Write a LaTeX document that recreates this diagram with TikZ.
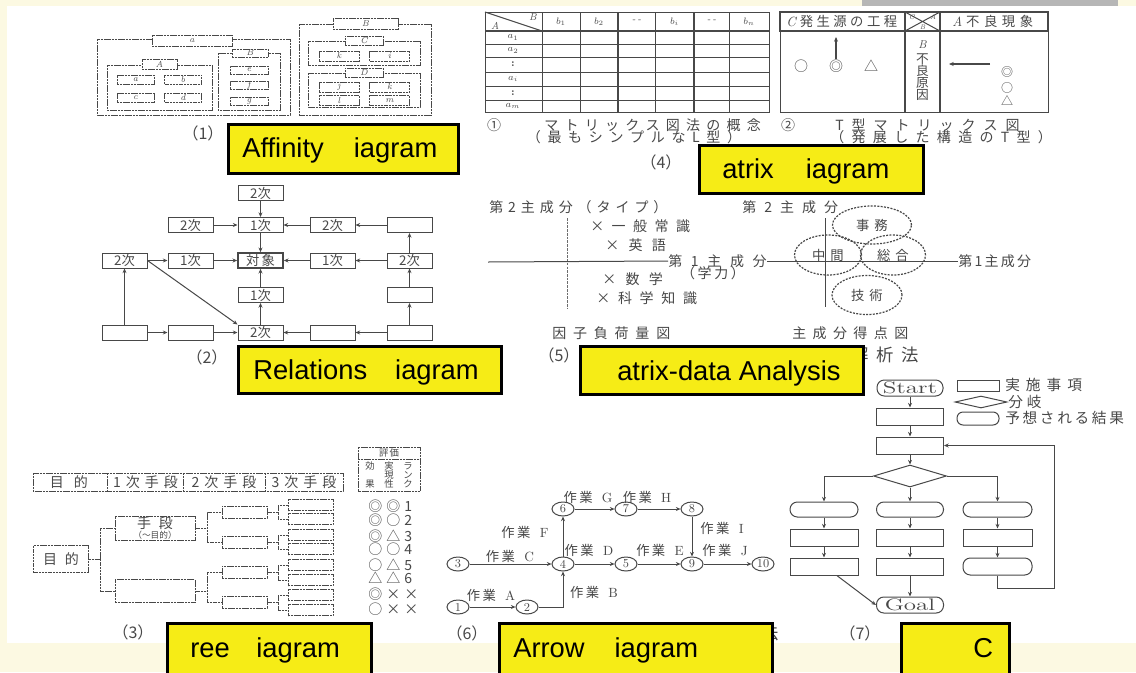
\documentclass[tikz,border=0pt]{standalone}
\usepackage{fontspec}
\usepackage{graphicx}
\usetikzlibrary{arrows.meta,shapes.geometric}
\newfontfamily\jp{Noto Sans CJK JP}
\newfontfamily\labfont{Liberation Sans}
% letter-spaced Japanese: \jsp{gap}{text}
\newlength\jgap
\def\jsploop#1#2{#1\ifx\relax#2\else\hskip\jgap\relax\expandafter\jsploop\expandafter#2\fi}
\newcommand\jsp[2]{\setlength\jgap{#1}\jsploop#2\relax}
\definecolor{cream}{RGB}{252,249,226}
\definecolor{barGrey}{RGB}{182,182,182}
\definecolor{labYellow}{RGB}{246,236,22}
\definecolor{ink}{RGB}{72,72,72}
\tikzset{
  wh/.style 2 args={minimum width=#1*0.75pt, minimum height=#2*0.75pt},
  scan/.style={draw=ink, line width=0.75pt},
  grp/.style={scan, dash pattern=on 1.6pt off 0.5pt},
  cell/.style={scan, fill=white, inner sep=0pt, text=ink, font=\fontsize{6.5}{7}\selectfont\itshape},
  afbox/.style={cell, dash pattern=on 1.6pt off 0.5pt},
  mt/.style={inner sep=0pt, text=ink, font=\fontsize{7.5}{8}\selectfont\itshape},
  jtxt/.style={inner sep=0pt, text=ink, font=\jp\fontsize{10.5}{11}\selectfont},
  pnum/.style={inner sep=0pt, text=ink, font=\jp\fontsize{12}{12}\selectfont},
  rbox/.style={scan, fill=white, inner sep=0pt, wh={45}{15}, text=ink, font=\jp\fontsize{10}{10}\selectfont},
  tbox/.style={scan, fill=white, inner sep=0pt, dash pattern=on 1.6pt off 0.5pt, text=ink, font=\jp\fontsize{10.5}{11}\selectfont},
  ev/.style={ellipse, scan, fill=white, inner sep=0pt, wh={22}{14}, text=ink, font=\fontsize{9}{9}\selectfont},
  pill/.style={scan, fill=white, rounded corners=5.5pt, inner sep=0pt, text=ink, font=\fontsize{12.5}{12.5}\selectfont},
  fbox/.style={scan, fill=white, inner sep=0pt},
  arr/.style={draw=ink, line width=0.75pt, -{Stealth[length=3.5pt,width=3pt]}},
  dell/.style={ellipse, draw=ink, line width=0.9pt, dash pattern=on 1.5pt off 1pt, inner sep=0pt, text=ink, font=\jp\fontsize{10}{10}\selectfont},
  wk/.style={inner sep=0pt, text=ink, font=\fontsize{10}{10}\selectfont},
  lgt/.style={inner sep=0pt, text=ink, anchor=west, font=\jp\fontsize{11}{11}\selectfont},
  lab/.style={draw=black, line width=2.6pt, fill=labYellow, inner sep=0pt, anchor=north west},
  labtxt/.style={inner sep=0pt, anchor=base west, font=\labfont\fontsize{20.5}{24}\selectfont},
}
\newcommand\wlab[1]{{\jp\jsp{1.8pt}{作業}}\hspace{7pt}#1}
\begin{document}
\begin{tikzpicture}[x=0.75pt,y=-0.75pt]
\clip (0,0) rectangle (1136,672);
\fill[cream] (0,0) rectangle (1136,672);
\fill[white] (7,6) rectangle (1136,643);
\fill[barGrey] (862,0) rectangle (1118,6);

% ---------- (1) affinity diagram ----------
\draw[grp] (97,39) rectangle (290,115);
\node[afbox, wh={80}{11}] (af-a) at (192,40.5) {a};
\draw[grp] (107,65) rectangle (212,110);
\node[afbox, wh={35}{10}] (af-A) at (159.5,64) {A};
\node[afbox, wh={37}{9}] (af-a1) at (135.5,79.5) {a};
\node[afbox, wh={37}{9}] (af-b1) at (183,79.5) {b};
\node[afbox, wh={37}{9}] (af-c1) at (135.5,98) {c};
\node[afbox, wh={37}{9}] (af-d1) at (183,98) {d};
\draw[grp] (218,53) rectangle (280,110);
\node[afbox, wh={36}{8}] (af-B) at (250,53) {B};
\node[afbox, wh={38}{8}] (af-e) at (249,70) {e};
\node[afbox, wh={38}{8}] (af-f) at (249,85.5) {f};
\node[afbox, wh={38}{8}] (af-g) at (249,101) {g};
\draw[grp] (299,24) rectangle (431,115);
\node[afbox, wh={65}{11}] (af-B2) at (365.5,24) {B};
\draw[grp] (308,41) rectangle (420,65);
\node[afbox, wh={38}{9}] (af-C) at (364,40.5) {C};
\node[afbox, wh={40}{10}] (af-k) at (339,56) {k};
\node[afbox, wh={40}{10}] (af-i) at (389.5,56) {i};
\draw[grp] (308,73) rectangle (420,107);
\node[afbox, wh={38}{9}] (af-D) at (364,72.5) {D};
\node[afbox, wh={40}{10}] (af-j) at (339,87) {j};
\node[afbox, wh={40}{10}] (af-k2) at (389.5,87) {k};
\node[afbox, wh={40}{10}] (af-l) at (339,100.5) {l};
\node[afbox, wh={40}{10}] (af-m) at (389.5,100.5) {m};
\node[pnum] (cap1) at (203,133) {（1）};

% ---------- (4) matrix diagrams ----------
\draw[scan] (485,12) rectangle (769,112);
\foreach \xx in {542,580,655,729} \draw[scan] (\xx,12) -- (\xx,112);
\foreach \xx in {618,694} \draw[scan, line width=1.1pt] (\xx,12) -- (\xx,112);
\foreach \yy in {44,57,72,86,100} \draw[scan] (485,\yy) -- (769,\yy);
\draw[scan, line width=1.2pt] (485,31) -- (769,31);
\draw[scan] (485,12) -- (542,31);
\node[mt] (lm-B) at (533,17) {B};
\node[mt] (lm-A) at (495,26) {A};
\node[mt] (lm-b1) at (561,21.5) {$b_1$};
\node[mt] (lm-b2) at (599,21.5) {$b_2$};
\node[mt] (lm-d1) at (636.5,21.5) {-\,-};
\node[mt] (lm-bi) at (674.5,21.5) {$b_i$};
\node[mt] (lm-d2) at (711.5,21.5) {-\,-};
\node[mt] (lm-bn) at (749,21.5) {$b_n$};
\node[mt] (lm-a1) at (513,37.5) {$a_1$};
\node[mt] (lm-a2) at (513,50.5) {$a_2$};
\node[mt, font=\fontsize{8}{8}\selectfont\bfseries] (lm-v1) at (513,64.5) {:};
\node[mt] (lm-ai) at (513,79) {$a_i$};
\node[mt, font=\fontsize{8}{8}\selectfont\bfseries] (lm-v2) at (513,93) {:};
\node[mt] (lm-am) at (513,106) {$a_m$};
\node[jtxt] (cap4n) at (494,125) {①};
\node[jtxt, anchor=west] (cap4a) at (544,125) {\jsp{4.7pt}{マトリックス図法の概念}};
\node[jtxt] (cap4b) at (634,137) {\jsp{5pt}{（最もシンプルなL型）}};
\node[pnum] (cap4) at (661,162) {（4）};

\draw[scan] (780,12) rectangle (1048,112);
\draw[scan, line width=1.3pt] (780,12) rectangle (1048,31);
\draw[scan, line width=1.3pt] (905,12) -- (905,112) (940,12) -- (940,112);
\draw[scan] (905,12) -- (940,31) (940,12) -- (905,31);
\node[jtxt, anchor=west, font=\jp\fontsize{10}{10}\selectfont] (tm-C) at (786,21.5) {{\rmfamily\itshape C}\hspace{3pt}\jsp{2.6pt}{発生源の工程}};
\node[jtxt, anchor=west, font=\jp\fontsize{10}{10}\selectfont] (tm-A) at (952,21.5) {{\rmfamily\itshape A}\hspace{3pt}\jsp{3.4pt}{不良現象}};
\node[mt, font=\fontsize{5}{5}\selectfont\itshape] (tm-c) at (912,17) {C};
\node[mt, font=\fontsize{5}{5}\selectfont\itshape] (tm-a) at (933,17) {A};
\node[mt, font=\fontsize{5}{5}\selectfont\itshape] (tm-b) at (922.5,27) {B};
\node[mt, font=\fontsize{8.5}{9}\selectfont\itshape] (tm-B) at (922.5,45) {B};
\node[jtxt, font=\jp\fontsize{9.5}{10}\selectfont] (tm-v1) at (922.5,59) {不};
\node[jtxt, font=\jp\fontsize{9.5}{10}\selectfont] (tm-v2) at (922.5,71) {良};
\node[jtxt, font=\jp\fontsize{9.5}{10}\selectfont] (tm-v3) at (922.5,83) {原};
\node[jtxt, font=\jp\fontsize{9.5}{10}\selectfont] (tm-v4) at (922.5,95) {因};
\node[jtxt] (tl-1) at (801,66) {○};
\node[jtxt] (tl-2) at (836,66) {◎};
\node[jtxt] (tl-3) at (871,66) {△};
\coordinate (upTip) at (836,37);
\draw[arr, line width=1pt] (tl-2.north) -- (upTip);
\node[jtxt, font=\jp\fontsize{9}{9}\selectfont] (tr-1) at (1007,72) {◎};
\node[jtxt, font=\jp\fontsize{9}{9}\selectfont] (tr-2) at (1007,87.5) {○};
\node[jtxt, font=\jp\fontsize{9}{9}\selectfont] (tr-3) at (1007,100.5) {△};
\coordinate (lfTail) at (990,64);
\coordinate (lfTip) at (949,64);
\draw[arr, line width=1pt] (lfTail) -- (lfTip);
\node[jtxt] (capTn) at (788,125) {②};
\node[jtxt, anchor=west] (capT1) at (835,125) {\jsp{6pt}{T型マトリックス図}};
\node[jtxt, anchor=west] (capT2) at (830,137) {\jsp{5.5pt}{（発展した構造のT型）}};

% ---------- (2) relations diagram ----------
\node[rbox] (r-top) at (260.5,193) {2次};
\node[rbox] (r-21) at (190.5,225) {2次};
\node[rbox] (r-22) at (260.5,225) {1次};
\node[rbox] (r-23) at (332.5,225) {2次};
\node[rbox] (r-24) at (409.5,225) {};
\node[rbox] (r-31) at (124.5,260.5) {2次};
\node[rbox] (r-32) at (190.5,260.5) {1次};
\node[rbox, line width=1.2pt] (r-33) at (260.5,260.5) {\jsp{1.5pt}{対象}};
\node[rbox] (r-34) at (332.5,260.5) {1次};
\node[rbox] (r-35) at (409.5,260.5) {2次};
\node[rbox] (r-43) at (260.5,295) {1次};
\node[rbox] (r-45) at (409.5,295) {};
\node[rbox] (r-51) at (124.5,332.5) {};
\node[rbox] (r-52) at (190.5,332.5) {};
\node[rbox] (r-53) at (260.5,332.5) {2次};
\node[rbox] (r-54) at (332.5,332.5) {};
\node[rbox] (r-55) at (409.5,332.5) {};
\draw[arr] (r-top) -- (r-22);
\draw[arr] (r-21) -- (r-22);
\draw[arr] (r-23) -- (r-22);
\draw[arr] (r-24) -- (r-23);
\draw[arr] (r-22) -- (r-33);
\draw[arr] (r-31) -- (r-32);
\draw[arr] (r-32) -- (r-33);
\draw[arr] (r-34) -- (r-33);
\draw[arr] (r-35) -- (r-34);
\draw[arr] (r-35) -- (r-24);
\draw[arr] (r-43) -- (r-33);
\draw[arr] (r-53) -- (r-43);
\draw[arr] (r-51) -- (r-31);
\draw[arr] (r-51) -- (r-52);
\draw[arr] (r-52) -- (r-53);
\draw[arr] (r-54) -- (r-53);
\draw[arr] (r-55) -- (r-54);
\draw[arr] (r-55) -- (r-45);
\draw[arr] (r-45) -- (r-35);
\draw[arr] (r-31.east) -- (r-53.north west);
\node[pnum] (cap2) at (207,357) {（2）};

% ---------- (5) matrix-data analysis ----------
\node[jtxt, anchor=west] (md-y1) at (489,207) {\jsp{3.7pt}{第2主成分（タイプ）}};
\coordinate (md-v1t) at (567,218);
\coordinate (md-v1b) at (567,308);
\draw[scan, draw=ink!80, dash pattern=on 2pt off 0.8pt] (md-v1t) -- (md-v1b);
\coordinate (md-h1) at (488,262);
\node[jtxt, anchor=west] (md-x1) at (668,261) {\jsp{6.5pt}{第1主成分}};
\node[jtxt] (md-x1b) at (713,273) {\jsp{2pt}{（学力）}};
\node[jtxt, anchor=west] (md-x2) at (958,261) {\jsp{1.7pt}{第1主成分}};
\draw[scan] (md-h1) -- (md-x1.west);
\draw[scan] (md-x1.east) -- (md-x2.west);
\node[jtxt, anchor=west] (md-i1) at (590,226) {\jsp{5.6pt}{×一般常識}};
\node[jtxt, anchor=west] (md-i2) at (605,245) {\jsp{7pt}{×英語}};
\node[jtxt, anchor=west] (md-i3) at (602,279) {\jsp{7pt}{×数学}};
\node[jtxt, anchor=west] (md-i4) at (596,298) {\jsp{5.8pt}{×科学知識}};
\node[jtxt, anchor=west] (md-y2) at (742,207) {\jsp{6pt}{第2主成分}};
\coordinate (md-v2t) at (825,218);
\coordinate (md-v2b) at (825,307);
\draw[scan] (md-v2t) -- (md-v2b);
\node[dell, wh={79}{38}] (md-e1) at (872,225) {\jsp{3.7pt}{事務}};
\node[dell, wh={67}{40}] (md-e2) at (828,255) {\jsp{3.7pt}{中間}};
\node[dell, wh={65}{40}] (md-e3) at (893,255) {\jsp{3.7pt}{総合}};
\node[dell, wh={70}{39}] (md-e4) at (867,295) {\jsp{3.7pt}{技術}};
\node[jtxt, anchor=west] (md-c1) at (552,333) {\jsp{5.1pt}{因子負荷量図}};
\node[jtxt, anchor=west] (md-c2) at (792,333) {\jsp{4.8pt}{主成分得点図}};
\node[pnum] (cap5) at (559,355) {（5）};
\node[inner sep=0pt, text=ink, anchor=east, font=\jp\fontsize{13}{13}\selectfont] (cap5t) at (919,355) {\jsp{5.8pt}{解析法}};

% ---------- (3) tree diagram ----------
\draw[grp] (33,473) rectangle (343,491);
\foreach \xx in {107,183,265} \draw[grp] (\xx,473) -- (\xx,491);
\node[jtxt] (tr-h1) at (69,482) {\jsp{7.5pt}{目的}};
\node[jtxt] (tr-h2) at (145.5,482) {\jsp{3.8pt}{1次手段}};
\node[jtxt] (tr-h3) at (224,482) {\jsp{3.8pt}{2次手段}};
\node[jtxt] (tr-h4) at (304,482) {\jsp{3.8pt}{3次手段}};
\draw[grp] (358,447) rectangle (420,491);
\draw[grp] (358,459) -- (420,459);
\tikzset{evt/.style={jtxt, font=\jp\fontsize{7}{7}\selectfont}}
\node[evt] (ev-h) at (389,453) {\jsp{1pt}{評価}};
\node[evt] (ev-a1) at (370,466) {効};
\node[evt] (ev-a2) at (370,484) {果};
\node[evt] (ev-b1) at (389,466) {実};
\node[evt] (ev-b2) at (389,475) {現};
\node[evt] (ev-b3) at (389,484) {性};
\node[evt] (ev-c1) at (408,466) {ラ};
\node[evt] (ev-c2) at (408,475) {ン};
\node[evt] (ev-c3) at (408,484) {ク};
\node[jtxt, anchor=west] (rk1) at (368,506) {\jsp{3pt}{◎◎1}};
\node[jtxt, anchor=west] (rk2) at (368,520) {\jsp{3pt}{◎○2}};
\node[jtxt, anchor=west] (rk3) at (368,536) {\jsp{3pt}{◎△3}};
\node[jtxt, anchor=west] (rk4) at (368,549) {\jsp{3pt}{○○4}};
\node[jtxt, anchor=west] (rk5) at (368,565) {\jsp{3pt}{○△5}};
\node[jtxt, anchor=west] (rk6) at (368,578) {\jsp{3pt}{△△6}};
\node[jtxt, anchor=west] (rk7) at (368,594) {\jsp{3pt}{◎××}};
\node[jtxt, anchor=west] (rk8) at (368,609) {\jsp{3pt}{○××}};

\node[tbox, wh={55}{27}] (t0) at (61,559) {\jsp{6pt}{目的}};
\node[tbox, wh={80}{24}, align=center] (t1a) at (155,528) {\jsp{6pt}{手段}\\[-3pt]{\fontsize{6.5}{6.5}\selectfont（〜目的）}};
\node[tbox, wh={80}{23}] (t1b) at (155,591) {};
\foreach \k/\yy in {1/512,2/542,3/572,4/602}
  \node[tbox, wh={45}{12}] (t2-\k) at (244.5,\yy) {};
\foreach \k/\yy in {1/505,2/519,3/535,4/549,5/565,6/580,7/595,8/610}
  \node[tbox, wh={45}{11}] (t3-\k) at (310.5,\yy) {};
\draw[grp] (t0.east) -- ++(11.5,0) |- (t1a.west);
\draw[grp] (t0.east) -- ++(11.5,0) |- (t1b.west);
\draw[grp] (t1a.east) -- ++(12,0) |- (t2-1.west);
\draw[grp] (t1a.east) -- ++(12,0) |- (t2-2.west);
\draw[grp] (t1b.east) -- ++(12,0) |- (t2-3.west);
\draw[grp] (t1b.east) -- ++(12,0) |- (t2-4.west);
\foreach \p/\a/\b in {1/1/2,2/3/4,3/5/6,4/7/8}{
  \draw[grp] (t2-\p.east) -- ++(10.5,0) |- (t3-\a.west);
  \draw[grp] (t2-\p.east) -- ++(10.5,0) |- (t3-\b.west);
}
\node[pnum] (cap3) at (133,632) {（3）};

% ---------- (6) arrow diagram ----------
\node[ev] (n1) at (458,607) {1};
\node[ev] (n2) at (527,607) {2};
\node[ev] (n3) at (458,564) {3};
\node[ev] (n4) at (563,564) {4};
\node[ev] (n5) at (626,564) {5};
\node[ev] (n9) at (692,564) {9};
\node[ev] (n10) at (763,564) {10};
\node[ev] (n6) at (563,509) {6};
\node[ev] (n7) at (626,509) {7};
\node[ev] (n8) at (692,509) {8};
\draw[arr] (n1) -- (n2);
\draw[arr] (n2.east) -| (n4.south);
\draw[arr] (n3) -- (n4);
\draw[arr] (n4) -- (n6);
\draw[arr] (n4) -- (n5);
\draw[arr] (n5) -- (n9);
\draw[arr] (n9) -- (n10);
\draw[arr] (n6) -- (n7);
\draw[arr] (n7) -- (n8);
\draw[arr] (n8) -- (n9);
\node[wk] (wA) at (491,595) {\wlab{A}};
\node[wk] (wB) at (594,592) {\wlab{B}};
\node[wk] (wC) at (510,556) {\wlab{C}};
\node[wk] (wD) at (589,550) {\wlab{D}};
\node[wk] (wE) at (660,550) {\wlab{E}};
\node[wk] (wJ) at (725,550) {\wlab{J}};
\node[wk] (wF) at (525,532) {\wlab{F}};
\node[wk] (wG) at (588,497) {\wlab{G}};
\node[wk] (wH) at (647,497) {\wlab{H}};
\node[wk] (wI) at (722,528) {\wlab{I}};
\node[pnum] (cap6) at (467,633) {（6）};
\node[inner sep=0pt, text=ink, anchor=east, font=\jp\fontsize{13}{13}\selectfont] (cap6t) at (779,633) {法};

% ---------- (7) PDPC ----------
\node[pill, wh={66}{16}] (p-start) at (910,388) {\scalebox{1.5}[1]{Start}};
\node[fbox, wh={67}{17}] (p-b1) at (910,416.5) {};
\node[fbox, wh={67}{17}] (p-b2) at (910,445.5) {};
\node[diamond, scan, fill=white, inner sep=0pt, wh={73}{22}] (p-dia) at (910,476) {};
\node[pill, wh={68}{15}] (p-oL) at (824,509.5) {};
\node[pill, wh={67}{15}] (p-oM) at (910,509.5) {};
\node[pill, wh={69}{15}] (p-oR) at (997.5,509.5) {};
\node[fbox, wh={68}{17}] (p-bL1) at (824,537.5) {};
\node[fbox, wh={67}{17}] (p-bM1) at (910,537.5) {};
\node[fbox, wh={69}{17}] (p-bR1) at (997.5,537.5) {};
\node[fbox, wh={68}{17}] (p-bL2) at (824,566.5) {};
\node[fbox, wh={67}{17}] (p-bM2) at (910,566.5) {};
\node[pill, wh={69}{17}] (p-oR2) at (997.5,566.5) {};
\node[pill, wh={67}{16}] (p-goal) at (910,605) {\scalebox{1.5}[1]{Goal}};
\draw[arr] (p-start) -- (p-b1);
\draw[arr] (p-b1) -- (p-b2);
\draw[arr] (p-b2) -- (p-dia);
\draw[arr] (p-dia.west) -| (p-oL.north);
\draw[arr] (p-dia.south) -- (p-oM.north);
\draw[arr] (p-dia.east) -| (p-oR.north);
\draw[arr] (p-oL) -- (p-bL1);
\draw[arr] (p-bL1) -- (p-bL2);
\draw[arr] (p-oM) -- (p-bM1);
\draw[arr] (p-bM1) -- (p-bM2);
\draw[arr] (p-oR) -- (p-bR1);
\draw[arr] (p-bR1) -- (p-oR2);
\draw[arr] (p-bM2) -- (p-goal);
\draw[arr] (p-bL2.-35) .. controls (855,590) .. (p-goal.west);
\coordinate (p-loop) at (1054,588);
\draw[arr] (p-oR2.south) |- (p-loop) |- (p-b2.east);
\node[fbox, wh={42}{11}] (lg-box) at (978,385.5) {};
\node[lgt] (lg-t1) at (1005,385) {\jsp{4.5pt}{実施事項}};
\node[diamond, scan, fill=white, inner sep=0pt, wh={52}{12}] (lg-dia) at (981,402) {};
\node[lgt] (lg-t2) at (1008,402) {\jsp{3pt}{分岐}};
\node[pill, rounded corners=4.5pt, wh={42}{13}] (lg-oval) at (978,418.5) {};
\node[lgt] (lg-t3) at (1005,418) {\jsp{2pt}{予想される結果}};
\node[pnum] (cap7) at (860,633) {（7）};

% ---------- highlighted captions ----------
\node[lab, wh={230}{49}] (lb1) at (227,123) {};
\node[labtxt] (lb1t) at (242,157) {Affinity\hspace{22.5pt}iagram};
\node[lab, wh={224}{48}] (lb4) at (698,144) {};
\node[labtxt] (lb4t) at (722,178) {atrix\hspace{24pt}iagram};
\node[lab, wh={263}{47}] (lb2) at (237,345) {};
\node[labtxt] (lb2t) at (253,379) {Relations\hspace{21pt}iagram};
\node[lab, wh={283}{48}] (lb5) at (579,345) {};
\node[labtxt] (lb5t) at (617,380) {atrix-data Analysis};
\node[lab, wh={204}{56}] (lb3) at (166,622) {};
\node[labtxt] (lb3t) at (190,657) {ree\hspace{20pt}iagram};
\node[lab, wh={273}{56}] (lb6) at (498,622) {};
\node[labtxt] (lb6t) at (513,657) {Arrow\hspace{22.5pt}iagram};
\node[lab, wh={108}{56}] (lb7) at (900,622) {};
\node[labtxt] (lb7t) at (973,657) {C};
\end{tikzpicture}
\end{document}
